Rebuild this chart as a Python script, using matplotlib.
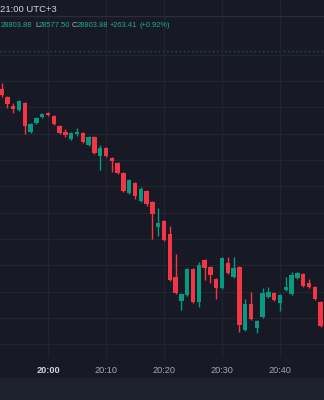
import numpy as np
import pandas as pd
import matplotlib
matplotlib.use("Agg")
import matplotlib.pyplot as plt
from matplotlib.lines import Line2D
from matplotlib.patches import Rectangle

# 1-minute candles, 19:52 .. 20:48
times = pd.date_range("2023-01-01 19:52", periods=57, freq="1min").strftime("%H:%M").tolist()

opens = [28984.8, 28969.6, 28952.5, 28944.9, 28958.2, 28903.1, 28920.2, 28931.6, 28939.2, 28933.5,
         28914.5, 28903.1, 28889.8, 28899.3, 28901.2, 28878.4, 28893.6, 28857.5, 28872.7, 28853.7,
         28844.2, 28825.2, 28787.2, 28806.2, 28772.0, 28791.0, 28770.1, 28722.6, 28734.0, 28709.3,
         28627.6, 28582.0, 28593.4, 28642.8, 28580.1, 28659.9, 28646.6, 28623.8, 28606.7, 28654.2,
         28627.6, 28646.6, 28526.9, 28576.3, 28530.7, 28551.6, 28589.6, 28597.2, 28578.2, 28602.9,
         28595.3, 28625.7, 28633.3, 28616.2, 28608.6, 28580.1, 28521.2]
highs = [28996.2, 28971.5, 28958.2, 28963.9, 28960.1, 28920.2, 28931.6, 28939.2, 28941.1, 28935.4,
         28916.4, 28908.8, 28903.1, 28910.7, 28903.1, 28895.5, 28895.5, 28878.4, 28874.6, 28855.6,
         28846.1, 28827.1, 28813.8, 28808.1, 28798.6, 28792.9, 28772.0, 28758.7, 28735.9, 28724.5,
         28671.3, 28597.2, 28644.7, 28644.7, 28656.1, 28661.8, 28648.5, 28625.7, 28665.6, 28665.6,
         28665.6, 28648.5, 28585.8, 28599.1, 28545.9, 28606.7, 28608.6, 28599.1, 28595.3, 28627.6,
         28637.1, 28637.1, 28635.2, 28623.8, 28610.5, 28582.0, 28559.2]
lows = [28969.6, 28948.7, 28939.2, 28943.0, 28899.3, 28901.2, 28918.3, 28929.7, 28933.5, 28916.4,
        28899.3, 28893.6, 28887.9, 28895.5, 28882.2, 28876.5, 28861.3, 28830.9, 28855.6, 28827.1,
        28823.3, 28789.1, 28785.3, 28775.8, 28770.1, 28762.5, 28699.8, 28705.5, 28696.0, 28620.0,
        28595.3, 28564.9, 28591.5, 28578.2, 28570.6, 28621.9, 28616.2, 28585.8, 28604.8, 28633.3,
        28625.7, 28523.1, 28525.0, 28545.9, 28521.2, 28549.7, 28587.7, 28582.0, 28563.0, 28601.0,
        28593.4, 28623.8, 28608.6, 28606.7, 28583.9, 28532.6, 28517.4]
closes = [28973.4, 28956.3, 28946.8, 28962.0, 28914.5, 28918.3, 28929.7, 28937.3, 28935.4, 28918.3,
          28901.2, 28897.4, 28901.2, 28903.1, 28884.1, 28893.6, 28863.2, 28872.7, 28857.5, 28848.0,
          28825.2, 28791.0, 28811.9, 28781.5, 28794.8, 28766.3, 28747.3, 28730.2, 28697.9, 28621.9,
          28597.2, 28595.3, 28642.8, 28580.1, 28650.4, 28644.7, 28631.4, 28606.7, 28663.7, 28635.2,
          28644.7, 28536.4, 28576.3, 28547.8, 28544.0, 28597.2, 28599.1, 28583.9, 28593.4, 28608.6,
          28631.4, 28635.2, 28610.5, 28608.6, 28585.8, 28534.5, 28555.4]

grid_levels = [28500, 28550, 28600, 28650, 28700, 28750, 28800, 28850, 28900, 28950, 29000, 29050]
marker_level = 29057.0

bg = "#171a24"
grid_c = "#20242f"
up_c = "#089981"
down_c = "#f23645"

plt.rcParams["font.family"] = ["Liberation Sans", "DejaVu Sans"]

fig = plt.figure(figsize=(3.24, 4.0), dpi=100, facecolor=bg)
ax = fig.add_axes([0, 42 / 400, 1, 358 / 400])
ax.set_facecolor(bg)

x = np.arange(len(times))
o = np.array(opens)
h = np.array(highs)
l = np.array(lows)
c = np.array(closes)
up = c >= o
colors = np.where(up, up_c, down_c)

ax.vlines(x, l, h, colors=colors, linewidth=1.0, zorder=3)
ax.bar(x, np.abs(c - o), bottom=np.minimum(o, c), width=0.78, color=colors, zorder=4, linewidth=0)

ax.set_xlim(-0.276, 55.59)
ax.set_ylim(28473.7, 29153.9)

tick_idx = [i for i, t in enumerate(times) if t.endswith("0")]
ax.set_xticks(tick_idx)
ax.set_xticklabels([times[i] for i in tick_idx])
ax.set_yticks(grid_levels)
ax.grid(True, color=grid_c, linewidth=1.0, zorder=0)
ax.tick_params(axis="x", length=0, pad=6, labelsize=6.6, labelcolor="#a3a6af")
ax.tick_params(axis="y", length=0, labelleft=False)
for lab in ax.get_xticklabels():
    if lab.get_text().endswith(":00"):
        lab.set_color("#d1d4dc")
        lab.set_fontweight("bold")
for s in ax.spines.values():
    s.set_visible(False)

ax.axhline(marker_level, color="#2c4a4e", linewidth=1.0, linestyle=(0, (1, 2)), zorder=1)

# bottom panel strip
fig.add_artist(Rectangle((0, 0), 1, 22 / 400, transform=fig.transFigure, facecolor="#1e222d", edgecolor="none"))
# header separator
fig.add_artist(Line2D([0, 1], [1 - 16 / 400, 1 - 16 / 400], transform=fig.transFigure, color="#2a2e39", linewidth=1))

fig.text(0 / 324, 1 - 9 / 400, "21:00 UTC+3", color="#d1d4dc", fontsize=6.8, va="center", ha="left")

teal = "#22ab94"
gray = "#b2b5be"
pieces = [(1, "28803.88", teal), (35, "L", gray), (38.5, "28577.50", teal), (72, "C", gray),
          (76.5, "28803.88", teal), (110, "+263.41", teal), (140, "(+0.92%)", teal)]
for px, txt, col in pieces:
    fig.text(px / 324, 1 - 25.5 / 400, txt, color=col, fontsize=5.4, va="center", ha="left")

fig.savefig("out.png", dpi=100, facecolor=bg)
